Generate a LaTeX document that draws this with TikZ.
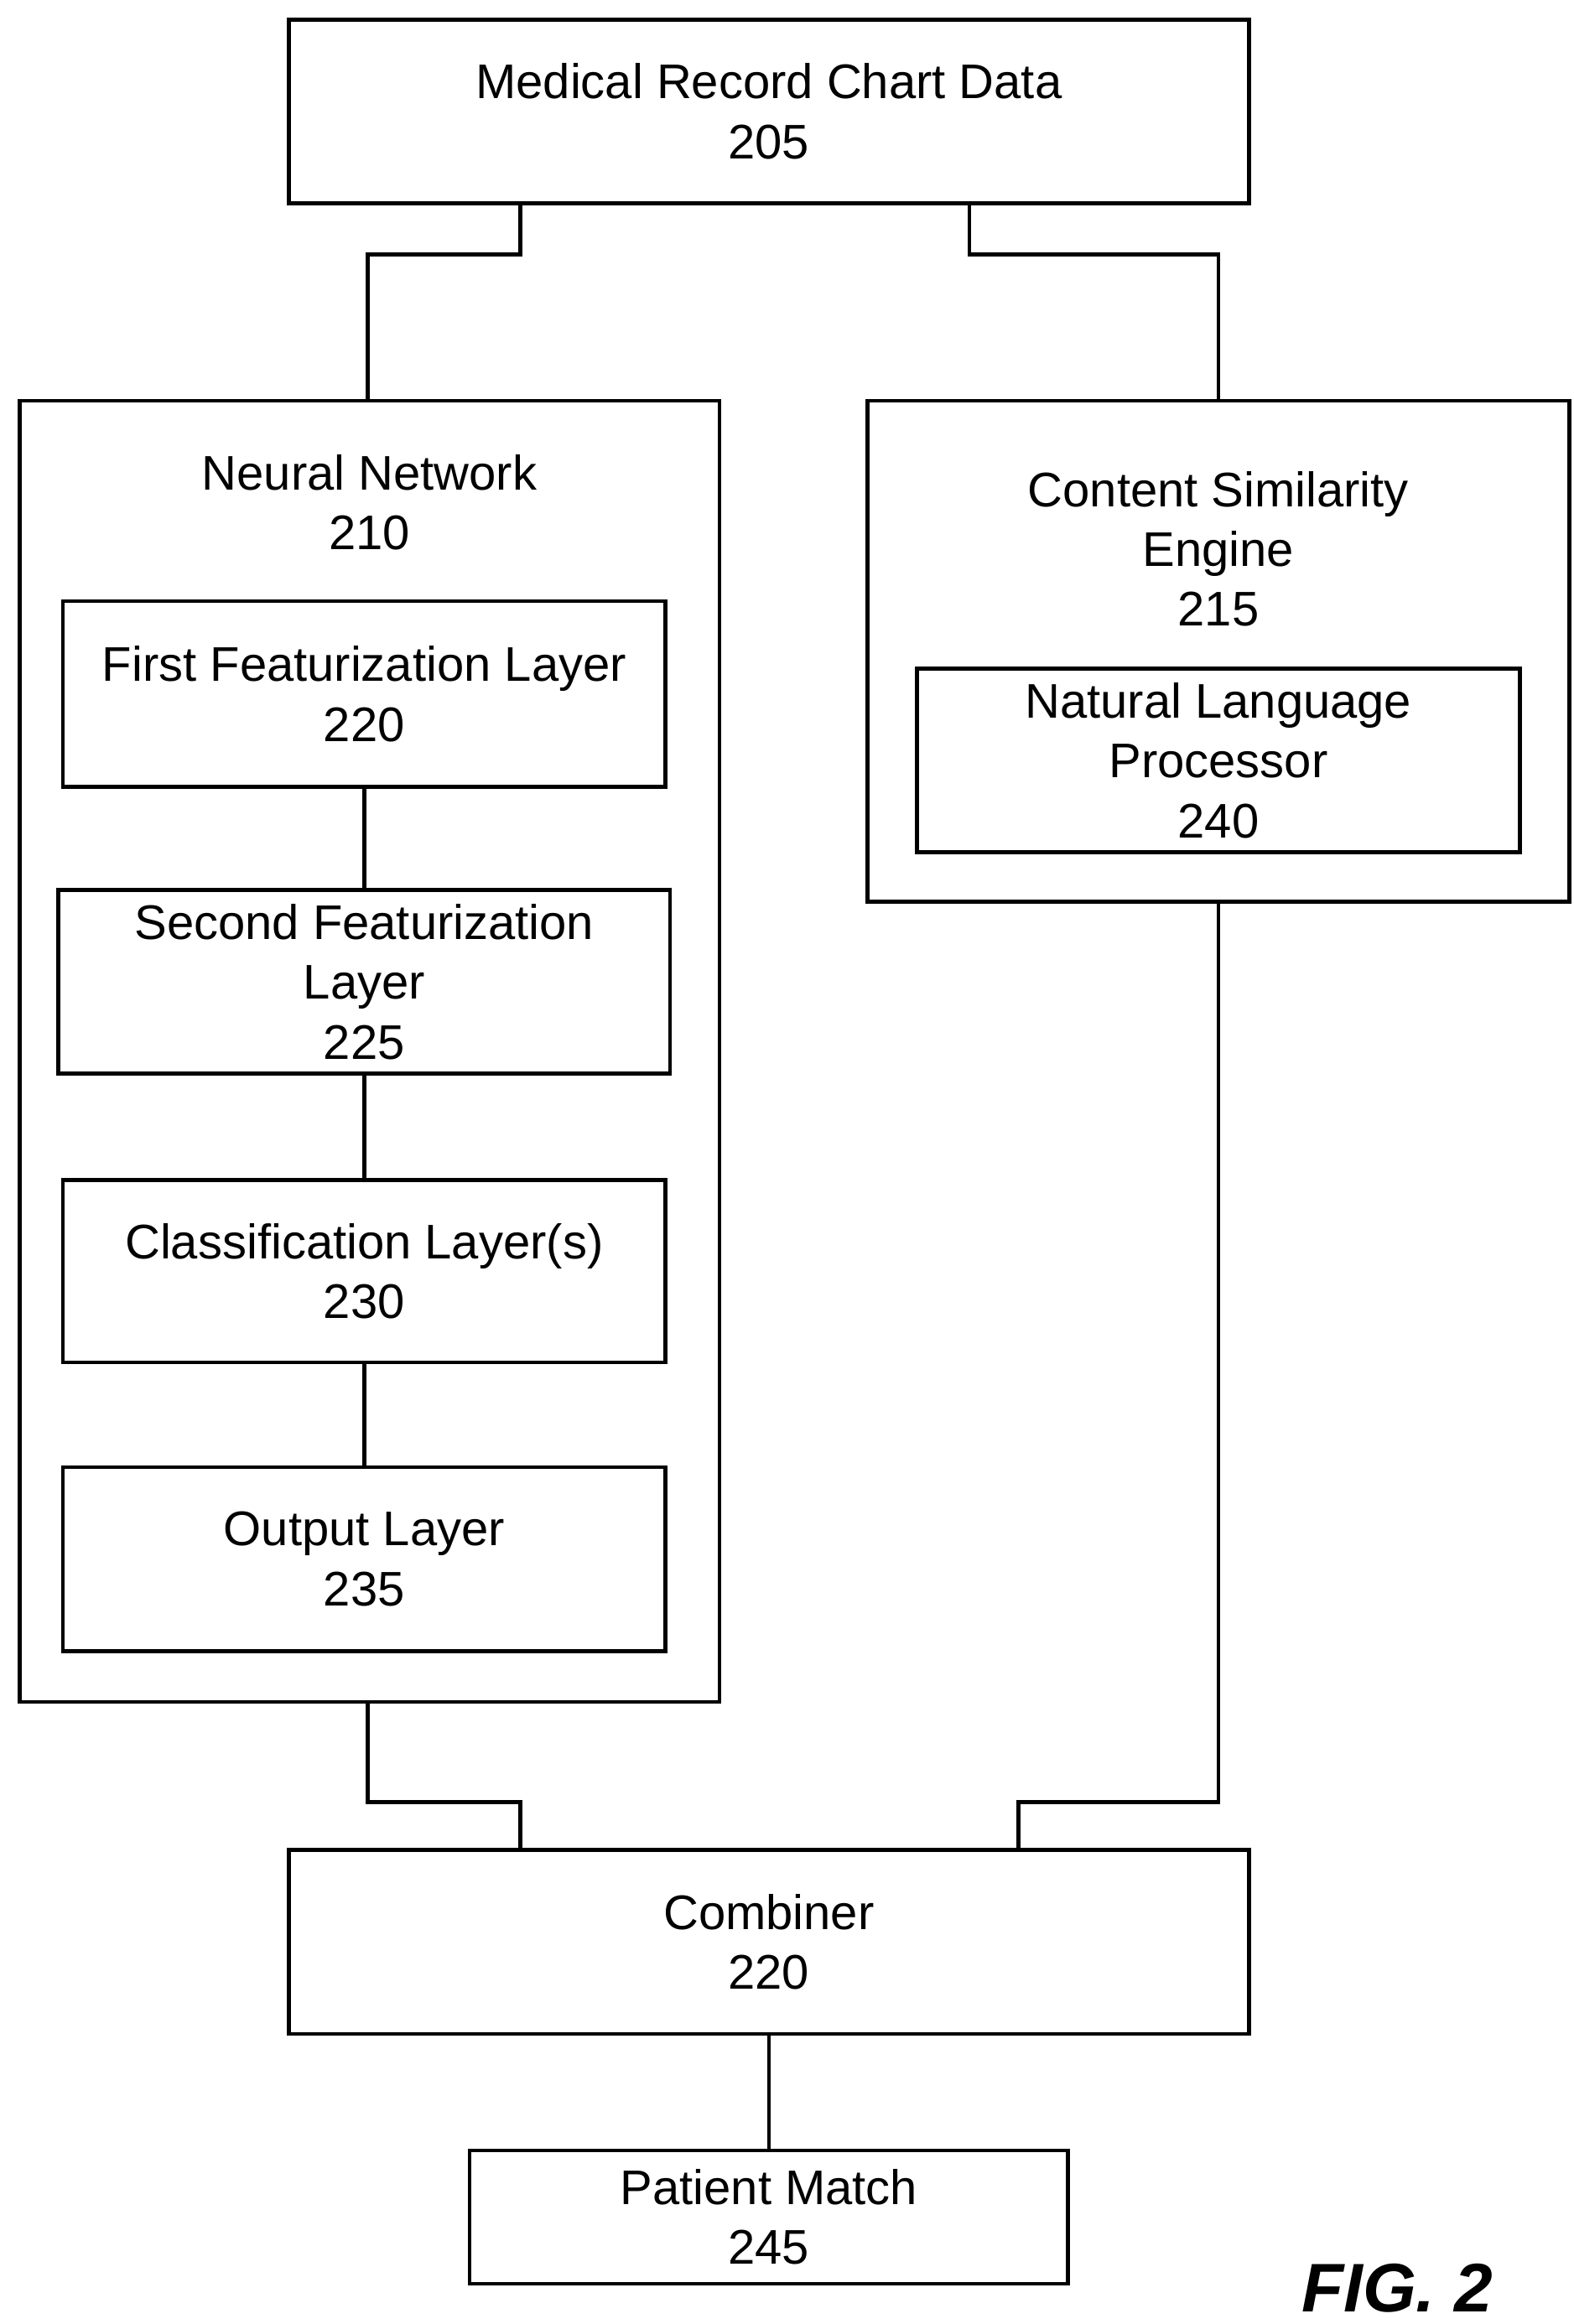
\documentclass[tikz,border=0pt]{standalone}
\usepackage{fontspec}
\setmainfont{Liberation Sans}
\begin{document}
\begin{tikzpicture}[x=1pt,y=-1pt,
  box/.style={draw,line width=2.6pt,rectangle,inner sep=0pt,align=center,font=\fontsize{32.5}{40}\selectfont},
  lbl/.style={align=center,inner sep=0pt,font=\fontsize{32.5}{40}\selectfont},
  wire/.style={line width=2.6pt}]
\useasboundingbox (0,0) rectangle (1052,1554);
\node[box,minimum width=642pt,minimum height=123pt] (mrc) at (514,74.5) {Medical Record Chart Data\\205};
\node[box,minimum width=468pt,minimum height=870pt] (nn) at (247,703) {};
\node[lbl] (nnl) at (247,336) {Neural Network\\210};
\node[box,minimum width=469pt,minimum height=335pt] (cse) at (814.5,435.5) {};
\node[lbl] (csel) at (814.5,367) {Content Similarity\\Engine\\215};
\node[box,minimum width=403pt,minimum height=123pt] (nlp) at (814.5,508.5) {Natural Language\\Processor\\240};
\node[box,minimum width=403pt,minimum height=124pt] (l220) at (243.5,464) {First Featurization Layer\\220};
\node[box,minimum width=409pt,minimum height=123pt] (l225) at (243.5,656.5) {Second Featurization\\Layer\\225};
\node[box,minimum width=403pt,minimum height=122pt] (l230) at (243.5,850) {Classification Layer(s)\\230};
\node[box,minimum width=403pt,minimum height=123pt] (l235) at (243.5,1042.5) {Output Layer\\235};
\node[box,minimum width=642pt,minimum height=123pt] (comb) at (514,1298.5) {Combiner\\220};
\node[box,minimum width=400pt,minimum height=89pt] (pm) at (514,1482.5) {Patient Match\\245};
\node[anchor=center,inner sep=0pt,font=\fontsize{46}{46}\selectfont\bfseries\itshape] (fig) at (934,1530) {FIG. 2};
\draw[wire] (mrc.south -| 348,0) |- (246,170) -- (nn.north -| 246,0);
\draw[wire] (mrc.south -| 648,0) |- (814.5,170) -- (cse.north);
\draw[wire] (l220) -- (l225);
\draw[wire] (l225) -- (l230);
\draw[wire] (l230) -- (l235);
\draw[wire] (nn.south -| 246,0) |- (348,1205) -- (comb.north -| 348,0);
\draw[wire] (cse.south) |- (681,1205) -- (comb.north -| 681,0);
\draw[wire] (comb) -- (pm);
\end{tikzpicture}
\end{document}
